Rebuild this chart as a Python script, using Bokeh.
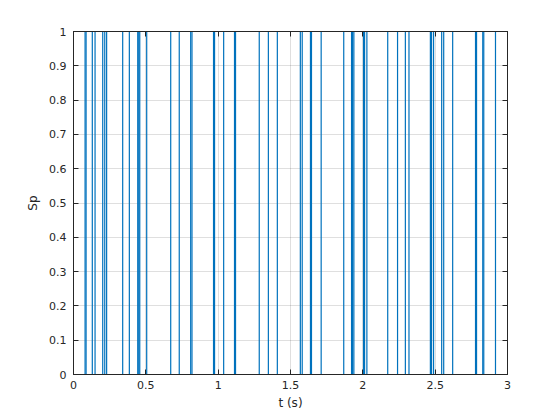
from bokeh.plotting import figure
from bokeh.models import Range1d, FixedTicker, LinearAxis
from bokeh.embed import file_html
from bokeh.resources import INLINE

# spike times (s); each spike has amplitude 1
spike_times = [0.080, 0.087, 0.130, 0.149, 0.202, 0.216, 0.229, 0.340, 0.386,
               0.444, 0.451, 0.458, 0.506, 0.672, 0.731, 0.810, 0.819,
               0.968, 0.975, 1.038, 1.113, 1.120, 1.284, 1.347, 1.409,
               1.568, 1.581, 1.638, 1.645, 1.712, 1.868, 1.922, 1.929, 1.938,
               2.005, 2.012, 2.028, 2.172, 2.240, 2.294, 2.319,
               2.467, 2.475, 2.489, 2.545, 2.559, 2.621,
               2.779, 2.786, 2.829, 2.836, 2.917]
spike_amp = [1.0] * len(spike_times)
baseline = [0.0] * len(spike_times)

x_ticks = [0, 0.5, 1, 1.5, 2, 2.5, 3]
x_labels = ["0", "0.5", "1", "1.5", "2", "2.5", "3"]
y_ticks = [0, 0.1, 0.2, 0.3, 0.4, 0.5, 0.6, 0.7, 0.8, 0.9, 1]
y_labels = ["0", "0.1", "0.2", "0.3", "0.4", "0.5", "0.6", "0.7", "0.8", "0.9", "1"]

AX = "#262626"
FONT = "DejaVu Sans"

p = figure(width=552, height=412, output_backend="svg", toolbar_location=None,
           x_range=Range1d(0, 3), y_range=Range1d(0, 1),
           min_border_left=73, min_border_right=45, min_border_top=31, min_border_bottom=38)
p.background_fill_color = "white"
p.border_fill_color = "white"
p.outline_line_color = AX
p.outline_line_width = 1

p.segment(x0=spike_times, y0=baseline, x1=spike_times, y1=spike_amp,
          line_color="#0072BD", line_width=1.2)

def style(ax, ticks, labels, show_labels=True):
    ax.ticker = FixedTicker(ticks=ticks)
    ax.major_label_overrides = {t: l for t, l in zip(ticks, labels)}
    ax.major_tick_in = 5
    ax.major_tick_out = 0
    ax.minor_tick_in = 0
    ax.minor_tick_out = 0
    ax.axis_line_color = AX
    ax.major_tick_line_color = AX
    ax.major_label_text_color = AX
    ax.major_label_text_font = FONT
    ax.major_label_text_font_size = "11px"
    ax.axis_label_text_color = AX
    ax.axis_label_text_font = FONT
    ax.axis_label_text_font_size = "12px"
    ax.axis_label_text_font_style = "normal"
    if not show_labels:
        ax.major_label_text_font_size = "0px"
        ax.major_label_text_alpha = 0

style(p.xaxis[0], x_ticks, x_labels)
style(p.yaxis[0], y_ticks, y_labels)
p.xaxis[0].axis_label = "t (s)"
p.yaxis[0].axis_label = "Sp"
p.xaxis[0].major_label_standoff = 6
p.yaxis[0].major_label_standoff = 7
p.xaxis[0].axis_label_standoff = 4
p.yaxis[0].axis_label_standoff = 6

top = LinearAxis()
style(top, x_ticks, x_labels, show_labels=False)
right = LinearAxis()
style(right, y_ticks, y_labels, show_labels=False)
p.add_layout(top, "above")
p.add_layout(right, "right")

p.xgrid.ticker = FixedTicker(ticks=x_ticks)
p.ygrid.ticker = FixedTicker(ticks=y_ticks)
p.grid.grid_line_color = AX
p.grid.grid_line_alpha = 0.15

open("out.html", "w").write(file_html(p, INLINE))
